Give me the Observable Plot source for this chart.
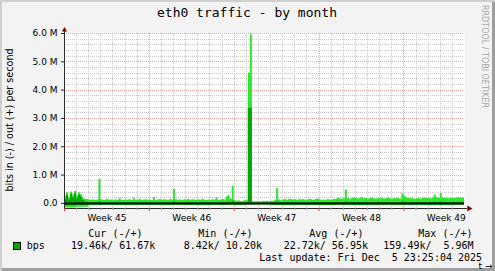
<!DOCTYPE html>
<html><head><meta charset="utf-8">
<script src="https://cdn.jsdelivr.net/npm/d3@7"></script>
<script src="https://cdn.jsdelivr.net/npm/@observablehq/plot@0.6"></script>
<style>
html,body{margin:0;padding:0;background:#f3f3f3;}
#wrap{position:relative;width:495px;height:271px;background:#f3f3f3;box-shadow:inset 2px 2px 0 #cfcfcf, inset -3px -3px 0 #9e9e9e;overflow:hidden;}
#wrap svg{position:absolute;left:0;top:0;}
</style></head><body><div id="wrap"></div>
<script>
// ---- data (kbps), one value per 4 hours, starting Mon Nov 3 00:00 ----
const outMax = [
 250,380,220,400,300,420, 260,380,300,180,150,140, 120,110,130,100,120,840,
 130,100,120,150,110,120, 100,130,110,160,120,100, 120,110,140,100,180,120,
 110,150,100,120,130,110, 120,100,210,110,120,140, 110,130,120,100,150,120,
 490,130,110,120,100,130, 120,140,110,130,120,100, 130,110,150,120,100,120,
 110,130,120,200,110,120, 140,120,230,280,150,600, 100,80,90,70,80,90,
 90,4600,5960,60,50,60, 60,50,70,60,80,60, 80,70,100,530,120,90,
 120,140,110,150,130,120, 130,110,150,120,140,110, 120,150,130,110,140,160,
 130,110,120,100,140,120, 110,150,140,180,160,150, 160,470,180,150,170,190,
 170,150,180,200,160,170, 150,170,190,160,140,180, 160,180,150,170,190,160,
 150,170,160,180,150,330, 250,200,170,160,180,150, 160,170,150,180,190,170,
 170,160,190,300,200,180, 350,190,170,180,160,190, 180,170,190,200,180,190
];
const outAvg = [
 150,300,120,320,200,350, 180,300,220,100,60,40, 25,20,25,20,20,60,
 20,15,20,25,15,20, 15,20,15,25,20,15, 20,15,20,15,30,20,
 15,25,15,20,20,15, 20,15,35,15,20,20, 15,20,20,15,25,20,
 60,20,15,20,15,20, 20,20,15,20,20,15, 20,15,25,20,15,20,
 15,20,20,30,15,20, 20,20,35,40,20,80, 15,10,15,10,10,15,
 15,3360,3360,10,10,10, 10,10,10,10,15,10, 15,10,15,60,20,15,
 20,25,20,25,20,20, 20,20,25,20,25,20, 20,25,20,20,25,30,
 20,20,20,15,25,20, 20,25,25,30,30,25, 30,60,30,25,30,30,
 30,25,30,35,30,30, 25,30,35,30,25,30, 30,30,25,30,35,30,
 25,30,30,30,25,50, 40,35,30,30,30,25, 30,30,25,30,35,30,
 30,30,35,45,35,30, 50,35,30,30,30,35, 30,30,35,35,30,35
];
// inbound (drawn below zero), one value per day
const inMaxDaily = [159,140,85,75,70,80,75,70,80,75,70,80,75,70,80,60,60,70,80,75,70,80,75,80,85,80,75,85,80,75,85,80,75];
const inAvgDaily = [80,60,25,20,20,22,20,20,22,20,20,22,20,20,22,18,18,20,22,22,20,22,22,24,24,22,22,24,24,22,24,24,22];

const yTicks = [0,1,2,3,4,5,6];
const yTickLabels = ["0.0","1.0 M","2.0 M","3.0 M","4.0 M","5.0 M","6.0 M"];
const weekStarts = [0,7,14,21,28];
const weekLabels = ["Week 45","Week 46","Week 47","Week 48","Week 49"];

const title = "eth0 traffic - by month";
const yLabel = "bits in (-) / out (+) per second";
const watermark = "RRDTOOL / TOBI OETIKER";
const seriesName = "bps";
const legendHeaders = ["Cur (-/+)","Min (-/+)","Avg (-/+)","Max (-/+)"];
const legendValues = ["19.46k/ 61.67k","8.42k/ 10.20k","22.72k/ 56.95k","159.49k/  5.96M"];
const lastUpdate = "Last update: Fri Dec  5 23:25:04 2025";

// ---- derived tables ----
const stepDays = 4/24;
const spanDays = 33;
const outTable = outMax.map((v,i)=>({t:i*stepDays, max:v/1000, avg:outAvg[i]/1000}));
outTable.push({t:outMax.length*stepDays, max:outMax.at(-1)/1000, avg:outAvg.at(-1)/1000});
const inTable = inMaxDaily.map((v,i)=>({t:i, max:-v/1000, avg:-inAvgDaily[i]/1000}));
inTable.push({t:inMaxDaily.length, max:-inMaxDaily.at(-1)/1000, avg:-inAvgDaily.at(-1)/1000});

const yMin = d3.min(inMaxDaily)/-1000 - 0.1; // lower bound a bit below the inbound peak
const yDomain = [-0.18, 6];
const minorDays = d3.range(1, spanDays).filter(d => d % 7 !== 0);
const minorY = d3.range(1, 30).map(d => d/5).filter(d => Math.abs(d - Math.round(d)) > 1e-6);
const weekMids = weekStarts.map(d => d + 3.5);

const LIGHT = "#2ee62e", DARK = "#00a800", GRID = "#c8c8c8", MGRID = "#f5a3a3", ARROW = "#7f0000";

const chart = Plot.plot({
  width: 495, height: 271,
  marginLeft: 64, marginRight: 31, marginTop: 33, marginBottom: 63,
  x: {domain: [0, spanDays]},
  y: {domain: yDomain},
  style: {background: "transparent", fontFamily: "DejaVu Sans", fontSize: "9px", color: "#000", overflow: "visible"},
  marks: [
    Plot.frame({fill: "white", stroke: "none"}),
    Plot.ruleX(minorDays, {stroke: GRID, strokeDasharray: "1,1", shapeRendering: "crispEdges"}),
    Plot.ruleY(minorY, {stroke: GRID, strokeDasharray: "1,1", shapeRendering: "crispEdges"}),
    Plot.ruleX(weekStarts, {stroke: MGRID, strokeDasharray: "1,1", shapeRendering: "crispEdges"}),
    Plot.ruleY(yTicks, {stroke: MGRID, strokeDasharray: "1,1", shapeRendering: "crispEdges"}),
    Plot.areaY(outTable, {x: "t", y: "max", fill: LIGHT, curve: "step-after"}),
    Plot.areaY(outTable, {x: "t", y: "avg", fill: DARK, curve: "step-after"}),
    Plot.areaY(inTable, {x: "t", y: "max", fill: LIGHT, curve: "step-after"}),
    Plot.areaY(inTable, {x: "t", y: "avg", fill: DARK, curve: "step-after"}),
    Plot.ruleY([0], {stroke: "#000", strokeWidth: 2}),
    // axes lines + arrows
    Plot.ruleX([0], {stroke: "#2a2a2a", insetTop: -4}),
    Plot.ruleY([yDomain[0]], {stroke: "#2a2a2a", insetRight: -3}),
    Plot.dot([0], {frameAnchor: "top-left", symbol: "triangle", r: 1.9, dy: -3.5, fill: ARROW, stroke: "none"}),
    Plot.dot([0], {frameAnchor: "bottom-right", symbol: "triangle", rotate: 90, r: 2.2, dx: 4.5, fill: ARROW, stroke: "none"}),
    // ticks and labels
    Plot.axisY(yTicks, {anchor: "left", tickSize: 3, tickPadding: 4, stroke: "#2a2a2a", tickFormat: (d, i) => yTickLabels[i], fontSize: 9}),
    Plot.axisX(minorDays, {anchor: "bottom", tickSize: 2, stroke: "#999", fill: "none"}),
    Plot.axisX(weekStarts, {anchor: "bottom", tickSize: 3, stroke: "#e04040", fill: "none"}),
    Plot.axisX(weekMids, {anchor: "bottom", tickSize: 0, tickPadding: 6, tickFormat: (d, i) => weekLabels[i], fontSize: 9})
  ]
});
const wrap = document.getElementById("wrap");
wrap.appendChild(chart);

// ---- text overlay: title, y label, watermark, legend ----
const ns = "http://www.w3.org/2000/svg";
const ov = document.createElementNS(ns, "svg");
ov.setAttribute("width", 495); ov.setAttribute("height", 271);
function txt(str, x, y, opts = {}) {
  const t = document.createElementNS(ns, "text");
  t.textContent = str;
  t.setAttribute("x", x); t.setAttribute("y", y);
  t.setAttribute("font-family", opts.family || "DejaVu Sans Mono");
  t.setAttribute("font-size", opts.size || 10);
  t.setAttribute("fill", opts.fill || "#000");
  t.setAttribute("text-anchor", opts.anchor || "start");
  if (opts.transform) t.setAttribute("transform", opts.transform);
  t.style.whiteSpace = "pre";
  ov.appendChild(t);
}
txt(title, 247, 17, {size: 13, anchor: "middle"});
txt(yLabel, 0, 0, {family: "DejaVu Sans", size: 9.6, anchor: "middle", transform: "translate(13,120) rotate(-90)"});
txt(watermark, 0, 0, {family: "DejaVu Sans", size: 8, fill: "#a8a8a8", transform: "translate(482,5) rotate(90)"});
const headerX = [88.3, 198.3, 309.3, 418.3];
const valueX = [71, 183.7, 283.7, 383.3];
legendHeaders.forEach((h, i) => txt(h, headerX[i], 236.5));
legendValues.forEach((v, i) => txt(v, valueX[i], 248.8));
txt(seriesName, 26.7, 248.8);
txt(lastUpdate, 259.3, 260.7);
const sw = document.createElementNS(ns, "rect");
sw.setAttribute("x", 13.5); sw.setAttribute("y", 242.5); sw.setAttribute("width", 7); sw.setAttribute("height", 7);
sw.setAttribute("fill", DARK); sw.setAttribute("stroke", "#000");
ov.appendChild(sw);
wrap.appendChild(ov);
</script></body></html>
